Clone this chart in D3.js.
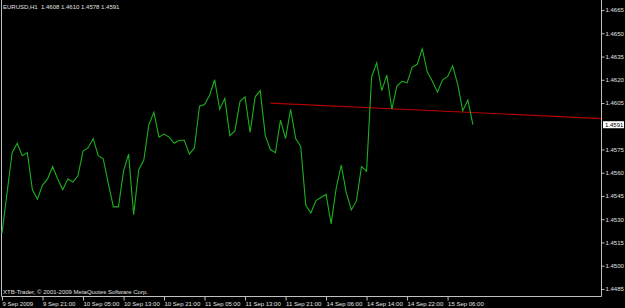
<!DOCTYPE html>
<html>
<head>
<meta charset="utf-8">
<script src="https://cdn.jsdelivr.net/npm/d3@7"></script>
<style>
  body { margin: 0; background: #000; }
  svg { display: block; }
  text { font-family: "Liberation Sans", Arial, sans-serif; }
</style>
</head>
<body>
<svg id="chart"></svg>
<script>
// EURUSD H1 closes, first bar = 9 Sep 2009 13:00
var closes = [1.4521, 1.4547, 1.4573, 1.4579, 1.4571, 1.4573, 1.4549, 1.4543, 1.4552, 1.4556,
  1.4564, 1.4556, 1.4549, 1.4556, 1.4554, 1.4558, 1.4574, 1.4576, 1.4582, 1.4571,
  1.4569, 1.4553, 1.4538, 1.4538, 1.4561, 1.4572, 1.4533, 1.4562, 1.4568, 1.4591,
  1.4599, 1.4583, 1.4585, 1.4583, 1.4579, 1.4581, 1.4581, 1.4572, 1.4576, 1.4603,
  1.4604, 1.4610, 1.4620, 1.4601, 1.4608, 1.4584, 1.4587, 1.4606, 1.4609, 1.4586,
  1.4609, 1.4613, 1.4584, 1.4575, 1.4573, 1.4594, 1.4582, 1.4601, 1.4582, 1.4577,
  1.4539, 1.4534, 1.4542, 1.4544, 1.4546, 1.4527, 1.4550, 1.4565, 1.4547, 1.4536,
  1.4542, 1.4564, 1.4561, 1.4622, 1.4631, 1.4613, 1.4623, 1.4601, 1.4616, 1.4619,
  1.4618, 1.4628, 1.4630, 1.4640, 1.4625, 1.4619, 1.4612, 1.4620, 1.4622, 1.4629,
  1.4617, 1.4600, 1.4607, 1.4591];

var timeBars = [0, 8, 16, 24, 32, 40, 48, 56, 64, 72, 80, 88];
var timeLabels = ["9 Sep 2009", "9 Sep 21:00", "10 Sep 05:00", "10 Sep 13:00", "10 Sep 21:00",
  "11 Sep 05:00", "11 Sep 13:00", "11 Sep 21:00", "14 Sep 06:00", "14 Sep 14:00",
  "14 Sep 22:00", "15 Sep 06:00"];

var priceTicks = [1.4485, 1.4500, 1.4515, 1.4530, 1.4545, 1.4560, 1.4575,
  1.4605, 1.4620, 1.4635, 1.4650, 1.4665];

var trendBars = [53, 118.3];
var trendPrices = [1.4605, 1.4595];

var title = "EURUSD,H1  1.4608 1.4610 1.4578 1.4591";
var lastPrice = 1.4591;

var W = 625, H = 308;
var plot = {left: 2, right: 601, top: 0, bottom: 296};

var svg = d3.select("#chart").attr("width", W).attr("height", H)
  .style("background-color", "#000");

var x = d3.scaleLinear().domain([0, 118.3]).range([plot.left, plot.right]);
var y = d3.scaleLinear().domain([1.44811, 1.46715]).range([295, 0]);

// frame
svg.append("path")
  .attr("d", "M1.5,0V" + (plot.bottom + 0.5) + "H" + (plot.right + 0.5) + "V0")
  .attr("fill", "none")
  .attr("stroke", "#c0c0c0")
  .attr("stroke-width", 1);

// price axis
var yAxis = svg.append("g")
  .attr("transform", "translate(" + (plot.right + 0.5) + ",0)")
  .call(d3.axisRight(y).tickValues(priceTicks).tickFormat(d3.format(".4f"))
    .tickSize(3).tickSizeOuter(0).tickPadding(1));
yAxis.select(".domain").remove();
yAxis.selectAll("line").attr("stroke", "#c0c0c0");
yAxis.selectAll("text").attr("fill", "#e0e0e0").style("font-size", "6px");

// time axis
var xAxis = svg.append("g")
  .attr("transform", "translate(0," + (plot.bottom + 0.5) + ")")
  .call(d3.axisBottom(x).tickValues(timeBars)
    .tickFormat(function(d, i) { return timeLabels[i]; })
    .tickSize(4).tickSizeOuter(0));
xAxis.select(".domain").remove();
xAxis.selectAll("line").attr("stroke", "#c0c0c0");
xAxis.selectAll("text")
  .attr("fill", "#e0e0e0")
  .attr("text-anchor", "start")
  .attr("dx", 0)
  .attr("y", 5)
  .style("font-size", "6px");

// trend line (ray to right edge)
svg.append("line")
  .attr("x1", x(trendBars[0])).attr("y1", y(trendPrices[0]))
  .attr("x2", x(trendBars[1])).attr("y2", y(trendPrices[1]))
  .attr("stroke", "#b00000")
  .attr("stroke-width", 1.2);

// close line
var line = d3.line()
  .x(function(d, i) { return x(i); })
  .y(function(d) { return y(d); });

svg.append("path")
  .datum(closes)
  .attr("d", line)
  .attr("fill", "none")
  .attr("stroke", "#1cb01c")
  .attr("stroke-width", 1.1);

// current price box
svg.append("rect")
  .attr("x", plot.right + 2)
  .attr("y", y(lastPrice) - 3.5)
  .attr("width", 21)
  .attr("height", 7)
  .attr("fill", "#ffffff");
svg.append("text")
  .attr("x", plot.right + 4)
  .attr("y", y(lastPrice) + 2)
  .attr("fill", "#000")
  .style("font-size", "6px")
  .text(d3.format(".4f")(lastPrice));

// title and copyright
svg.append("text")
  .attr("x", 3).attr("y", 8.5)
  .attr("fill", "#e0e0e0")
  .style("font-size", "6px")
  .style("white-space", "pre")
  .text(title);

svg.append("text")
  .attr("x", 3).attr("y", 293.5)
  .attr("fill", "#e0e0e0")
  .style("font-size", "6px")
  .text("XTB-Trader, \u00a9 2001-2009 MetaQuotes Software Corp.");
</script>
</body>
</html>
